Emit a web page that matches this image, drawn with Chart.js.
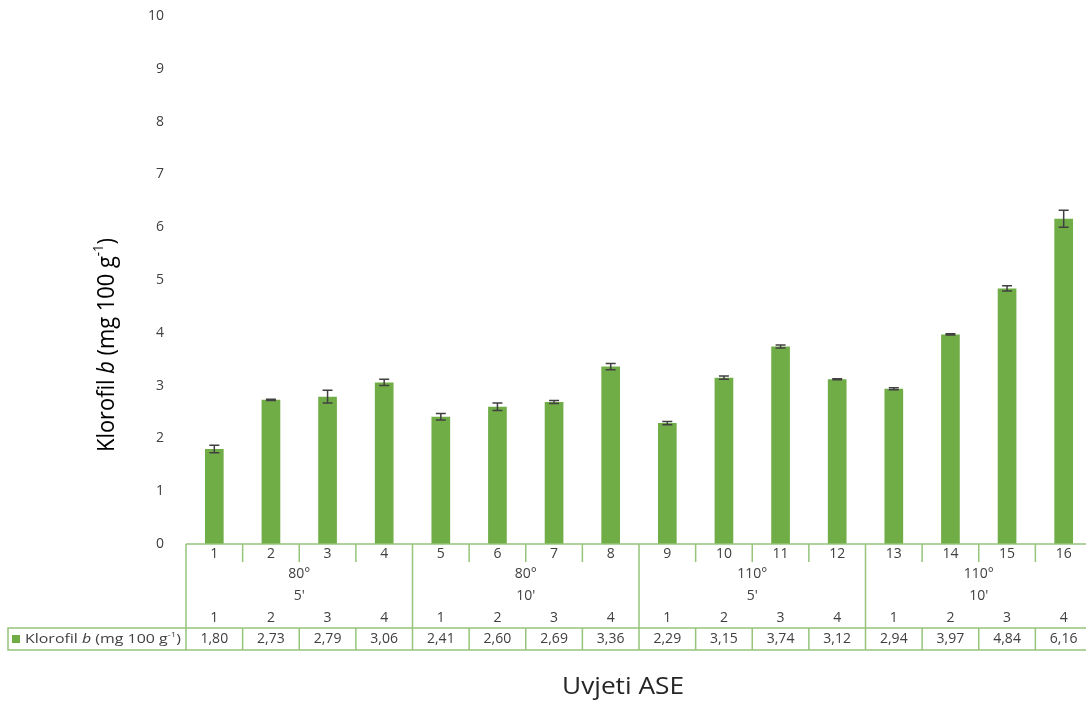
<!DOCTYPE html>
<html>
<head>
<meta charset="utf-8">
<script src="https://cdn.jsdelivr.net/npm/chart.js@4.4.1/dist/chart.umd.min.js"></script>
<style>
  body { margin: 0; background: #fff; overflow: hidden; }
  #wrap { width: 1100px; height: 702px; }
</style>
</head>
<body>
<div id="wrap"><canvas id="myChart"></canvas></div>
<script>
const categories = ["1","2","3","4","5","6","7","8","9","10","11","12","13","14","15","16"];
const values = [1.80, 2.73, 2.79, 3.06, 2.41, 2.60, 2.69, 3.36, 2.29, 3.15, 3.74, 3.12, 2.94, 3.97, 4.84, 6.16];
const errors = [0.07, 0.01, 0.12, 0.06, 0.06, 0.07, 0.03, 0.06, 0.03, 0.03, 0.03, 0.01, 0.02, 0.01, 0.05, 0.16];
const temps = ["80°", "80°", "110°", "110°"];
const times = ["5'", "10'", "5'", "10'"];
const reps = ["1", "2", "3", "4"];
const yTicks = [0, 1, 2, 3, 4, 5, 6, 7, 8, 9, 10];

const green = "#70AD47";
const lineGreen = "#95C47A";
const textGray = "#404040";
const font = "'Open Sans', 'DejaVu Sans', sans-serif";

// draws text made of pieces (normal / italic / superscript), squeezed or stretched to width w
function drawRich(ctx, segs, x, y, size, align, w) {
  let widths = segs.map(s => {
    ctx.font = (s.it ? "italic " : "") + (s.sup ? size * 0.6 : size) + "px " + font;
    return ctx.measureText(s.t).width;
  });
  let total = widths.reduce((a, b) => a + b, 0);
  let k = w ? w / total : 1;
  ctx.save();
  ctx.translate(x, y);
  ctx.scale(k, 1);
  let cx = align === "center" ? -total / 2 : 0;
  ctx.textAlign = "left";
  ctx.textBaseline = "middle";
  segs.forEach((s, i) => {
    ctx.font = (s.it ? "italic " : "") + (s.sup ? size * 0.6 : size) + "px " + font;
    ctx.fillText(s.t, cx, s.sup ? -size * 0.35 : 0);
    cx += widths[i];
  });
  ctx.restore();
}

const labelSegs = [
  { t: "Klorofil " }, { t: "b", it: true }, { t: " (mg 100 g" }, { t: "-1", sup: true }, { t: ")" }
];

const errorBars = {
  id: "errorBars",
  afterDatasetsDraw(chart) {
    const ctx = chart.ctx;
    const y = chart.scales.y;
    const meta = chart.getDatasetMeta(0);
    ctx.save();
    ctx.strokeStyle = "#404040";
    ctx.lineWidth = 1.5;
    meta.data.forEach((bar, i) => {
      const top = y.getPixelForValue(values[i] + errors[i]);
      const bot = y.getPixelForValue(values[i] - errors[i]);
      ctx.beginPath();
      ctx.moveTo(bar.x, top); ctx.lineTo(bar.x, bot);
      ctx.moveTo(bar.x - 5, top); ctx.lineTo(bar.x + 5, top);
      ctx.moveTo(bar.x - 5, bot); ctx.lineTo(bar.x + 5, bot);
      ctx.stroke();
    });
    ctx.restore();
  }
};

const dataTable = {
  id: "dataTable",
  afterDraw(chart) {
    const ctx = chart.ctx;
    const x = chart.scales.x;
    const area = chart.chartArea;
    const base = area.bottom;
    const step = x.getPixelForValue(1) - x.getPixelForValue(0);
    const edge = i => x.getPixelForValue(0) - step / 2 + i * step;
    const rowTop = base + 84, rowBot = base + 106;

    ctx.save();
    ctx.strokeStyle = lineGreen;
    ctx.lineWidth = 1.5;
    ctx.beginPath();
    ctx.moveTo(area.left, base); ctx.lineTo(area.right, base);
    for (let i = 0; i <= categories.length; i++) {
      const ex = edge(i);
      if (i % 4 === 0) {
        ctx.moveTo(ex, base); ctx.lineTo(ex, rowBot);
      } else {
        ctx.moveTo(ex, base); ctx.lineTo(ex, base + 18);
        ctx.moveTo(ex, rowTop); ctx.lineTo(ex, rowBot);
      }
    }
    ctx.rect(8, rowTop, area.right - 8, rowBot - rowTop);
    ctx.stroke();

    ctx.fillStyle = textGray;
    ctx.textAlign = "center";
    ctx.textBaseline = "middle";
    ctx.font = "14px " + font;
    categories.forEach((c, i) => {
      const cx = x.getPixelForValue(i);
      ctx.fillText(c, cx, base + 10);
      ctx.fillText(reps[i % 4], cx, base + 74);
      ctx.fillText(values[i].toFixed(2).replace(".", ","), cx, base + 95);
    });
    temps.forEach((t, g) => {
      const gx = (edge(g * 4) + edge(g * 4 + 4)) / 2;
      ctx.fillText(t, gx, base + 30);
      ctx.fillText(times[g], gx, base + 52);
    });

    // legend cell
    ctx.fillStyle = green;
    ctx.fillRect(12, rowTop + 7, 8, 8);
    ctx.fillStyle = textGray;
    drawRich(ctx, labelSegs, 25, rowTop + 11, 13, "left", 156);

    // x title
    ctx.fillStyle = "#262626";
    drawRich(ctx, [{ t: "Uvjeti ASE" }], 623, 687, 23, "center", 122);

    // y title, rotated
    ctx.translate(107, 345);
    ctx.rotate(-Math.PI / 2);
    ctx.fillStyle = "#000";
    drawRich(ctx, labelSegs, 0, 0, 23, "center", 214);
    ctx.restore();
  }
};

const ctx = document.getElementById("myChart").getContext("2d");
new Chart(ctx, {
  type: "bar",
  data: {
    labels: categories,
    datasets: [{
      label: "Klorofil b (mg 100 g-1)",
      data: values,
      backgroundColor: green,
      borderWidth: 0,
      categoryPercentage: 1,
      barPercentage: 0.33
    }]
  },
  options: {
    responsive: true,
    maintainAspectRatio: false,
    animation: false,
    layout: { padding: { top: 16, bottom: 158, left: 0, right: 8 } },
    plugins: { legend: { display: false }, tooltip: { enabled: false } },
    scales: {
      x: { display: false },
      y: {
        min: 0, max: 10,
        afterFit(scale) {
          scale.width = 186;
          scale.paddingTop = 0;
          scale.paddingBottom = 0;
        },
        afterBuildTicks(scale) { scale.ticks = yTicks.map(v => ({ value: v })); },
        grid: { display: false },
        border: { display: false },
        ticks: { color: "#404040", font: { size: 14, family: font }, padding: 14 }
      }
    }
  },
  plugins: [errorBars, dataTable]
});
</script>
</body>
</html>
